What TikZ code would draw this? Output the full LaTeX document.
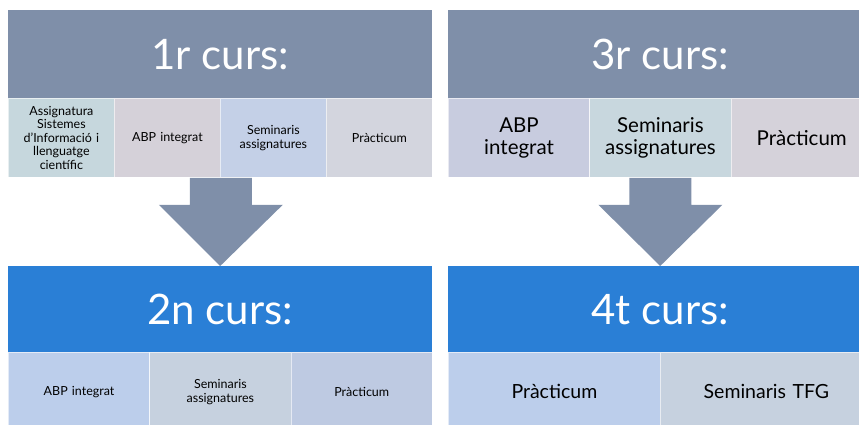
\documentclass[tikz,border=0pt]{standalone}
\usepackage{fontspec}
\setmainfont{Lato}
\usetikzlibrary{calc}
\definecolor{slate}{HTML}{7F8FA9}
\definecolor{bluebar}{HTML}{2A7FD6}
\definecolor{tla}{HTML}{C6D7DD}
\definecolor{tlb}{HTML}{D5D1D9}
\definecolor{tlc}{HTML}{C4D0E7}
\definecolor{tld}{HTML}{D3D5DE}
\definecolor{tra}{HTML}{C8CCDF}
\definecolor{trb}{HTML}{C8D7DE}
\definecolor{trc}{HTML}{D5D2DA}
\definecolor{bla}{HTML}{BCCEEB}
\definecolor{blb}{HTML}{C6D1DF}
\definecolor{blc}{HTML}{BECAE2}
\begin{document}
\begin{tikzpicture}[x=1pt,y=-1pt,
  box/.style={anchor=north west, inner sep=2pt, align=center, draw=white, draw opacity=0.6, line width=0.8pt, text=black},
  yearbox/.style={anchor=north west, inner sep=0pt, align=center, text=white, minimum width=424pt, font=\fontsize{42}{46}\selectfont},
  smalltxt/.style={font=\fontsize{12.5}{13.5}\selectfont},
  bigtxt/.style={font=\fontsize{20.5}{22}\selectfont},
  bigtxtb/.style={font=\fontsize{19.5}{22}\selectfont},
  w4/.style={minimum width=106pt, minimum height=79pt, text width=102pt},
  w3/.style={minimum width=141.33pt, minimum height=79pt, text width=136pt},
  w2/.style={minimum width=212pt, minimum height=79pt, text width=204pt}]
\useasboundingbox (0,0) rectangle (859,425);
\begin{scope}
\clip (0,0) rectangle (859,425);
% 1r curs
\node[yearbox, fill=slate, minimum height=88pt] (y1) at (8,10) {1r curs:};
\node[box, w4, smalltxt, fill=tla] (a1) at (8,98) {Assignatura\\Sistemes\\d’Informació i\\llenguatge\\científic};
\node[box, w4, smalltxt, fill=tlb] (a2) at (114,98) {ABP integrat};
\node[box, w4, smalltxt, fill=tlc] (a3) at (220,98) {Seminaris\\assignatures};
\node[box, w4, smalltxt, fill=tld] (a4) at (326,98) {Pràcticum};
% 3r curs
\node[yearbox, fill=slate, minimum height=88pt] (y3) at (448,10) {3r curs:};
\node[box, w3, bigtxt, fill=tra] (c1) at (448,98) {ABP\\integrat};
\node[box, w3, bigtxt, fill=trb] (c2) at (589.33,98) {Seminaris\\assignatures};
\node[box, w3, bigtxt, fill=trc] (c3) at (730.67,98) {Pràcticum};
% 2n curs
\node[yearbox, fill=bluebar, minimum height=86pt] (y2) at (8,266) {2n curs:};
\node[box, w3, smalltxt, fill=bla] (b1) at (8,352) {ABP integrat};
\node[box, w3, smalltxt, fill=blb] (b2) at (149.33,352) {Seminaris\\assignatures};
\node[box, w3, smalltxt, fill=blc] (b3) at (290.67,352) {Pràcticum};
% 4t curs
\node[yearbox, fill=bluebar, minimum height=86pt] (y4) at (448,266) {4t curs:};
\node[box, w2, bigtxtb, fill=bla] (d1) at (448,352) {Pràcticum};
\node[box, w2, bigtxtb, fill=blb] (d2) at (660,352) {Seminaris TFG};
% arrows
\fill[slate] ($(a2.south east)+(-31,0)$) -- ($(a2.south east)+(31,0)$) -- ($(a2.south east)+(31,27)$) -- ($(a2.south east)+(62,27)$) -- (y2.north) -- ($(a2.south east)+(-62,27)$) -- ($(a2.south east)+(-31,27)$) -- cycle;
\fill[slate] ($(c2.south)+(-31,0)$) -- ($(c2.south)+(31,0)$) -- ($(c2.south)+(31,27)$) -- ($(c2.south)+(62,27)$) -- (y4.north) -- ($(c2.south)+(-62,27)$) -- ($(c2.south)+(-31,27)$) -- cycle;
\end{scope}
\end{tikzpicture}
\end{document}
